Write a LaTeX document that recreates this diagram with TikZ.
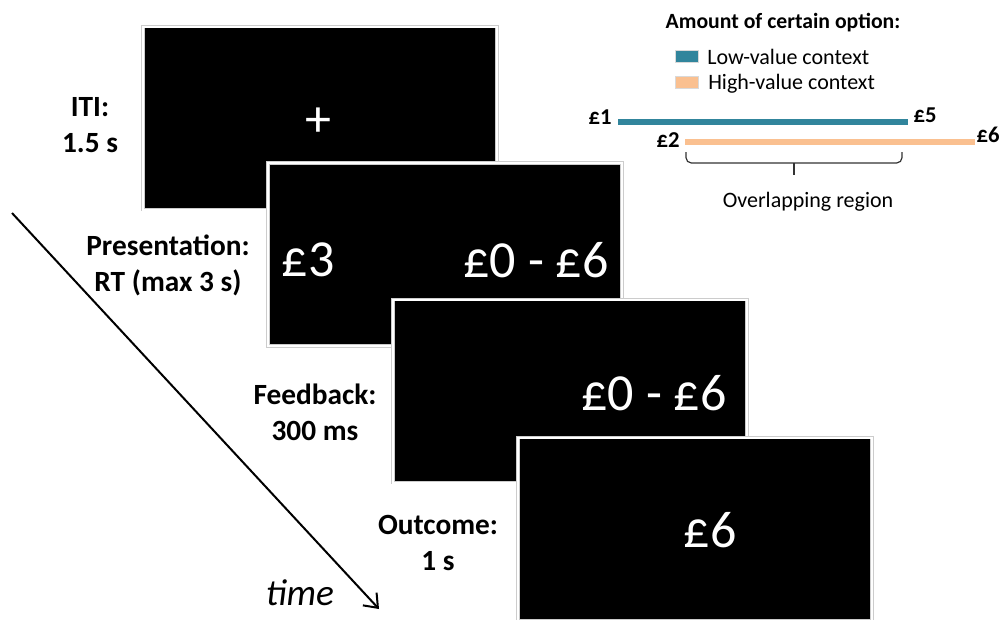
\documentclass[tikz,border=0pt]{standalone}
\usepackage{fontspec}
\setmainfont{Carlito}
\usetikzlibrary{arrows.meta}
\definecolor{lowctx}{RGB}{49,133,156}
\definecolor{highctx}{RGB}{250,192,144}

\begin{document}
\begin{tikzpicture}[
  x=0.75pt, y=-0.75pt,
  screenbox/.style={draw=gray!40, line width=0.5pt, double=white, double distance=1.5pt, fill=black, minimum width=265.5pt, minimum height=137.25pt, inner sep=0pt},
  cuetext/.style={text=white, font=\fontsize{39}{39}\selectfont, inner sep=0pt},
  phaselab/.style={align=center, font=\fontsize{22}{27}\selectfont\bfseries, inner sep=0pt},
  legtext/.style={font=\fontsize{16.5}{16.5}\selectfont, inner sep=0pt},
  boundlab/.style={font=\fontsize{17}{17}\selectfont\bfseries, inner sep=0pt},
  swatchbox/.style={draw=gray!30, line width=0.4pt, minimum width=17pt, minimum height=9pt, inner sep=0pt},
  ctxbar/.style={line width=4.5pt},
  overlapbrace/.style={draw=black!80, line width=0.9pt, rounded corners=4pt},
  timeflow/.style={-{Straight Barb[length=9pt, width=14pt]}, line width=1.5pt}
]
\useasboundingbox (0,0) rectangle (1004,619);
\node[screenbox] (iti) at (320,118) {};
\node[screenbox] (pres) at (445,254.5) {};
\node[screenbox] (fb) at (570,391) {};
\node[screenbox] (out) at (695,529) {};
\node[cuetext] (fix) at (318,122) {+};
\node[cuetext] (sure) at (308,260) {£3};
\node[cuetext] (gamble) at (536,260) {£0 - £6};
\node[cuetext] (fbtxt) at (654,393) {£0 - £6};
\node[cuetext] (outtxt) at (710,530) {£6};
\node[phaselab] (itilab) at (90,125) {ITI:\\1.5 s};
\node[phaselab] (preslab) at (168,265) {Presentation:\\RT (max 3 s)};
\node[phaselab] (fblab) at (315,412) {Feedback:\\300 ms};
\node[phaselab] (outlab) at (438,543) {Outcome:\\1 s};
\node[legtext, font=\fontsize{16.3}{16.3}\selectfont\bfseries, anchor=base] (title) at (783,28) {Amount of certain option:};
\node[swatchbox, fill=lowctx] (lowsw) at (686.5,56) {};
\node[legtext, anchor=base west] (lowlab) at (707,64.5) {Low-value context};
\node[swatchbox, fill=highctx] (highsw) at (686.5,82) {};
\node[legtext, anchor=base west] (highlab) at (708,89.5) {High-value context};
\node[boundlab] (p1) at (600,117) {£1};
\node[boundlab] (p5) at (925,115) {£5};
\node[boundlab] (p2) at (668,140) {£2};
\node[boundlab] (p6) at (988,135) {£6};
\coordinate (lowL) at (618,122);
\coordinate (lowR) at (908,122);
\coordinate (highL) at (685,142);
\coordinate (highR) at (975,142);
\coordinate (ovL) at (686,152);
\coordinate (ovR) at (902,152);
\coordinate (ovM) at (794,163);
\coordinate (ovT) at (794,175);
\node[legtext, anchor=base] (ovlab) at (808,207) {Overlapping region};
\coordinate (t0) at (12,213);
\coordinate (t1) at (379,609);
\node[font=\fontsize{28}{28}\selectfont\itshape] (timelab) at (300,593) {time};
\draw[ctxbar, lowctx] (lowL) -- (lowR);
\draw[ctxbar, highctx] (highL) -- (highR);
\draw[overlapbrace] (ovL) |- (ovM) -| (ovR);
\draw[overlapbrace] (ovM) -- (ovT);
\draw[timeflow] (t0) -- (t1);
\end{tikzpicture}
\end{document}
